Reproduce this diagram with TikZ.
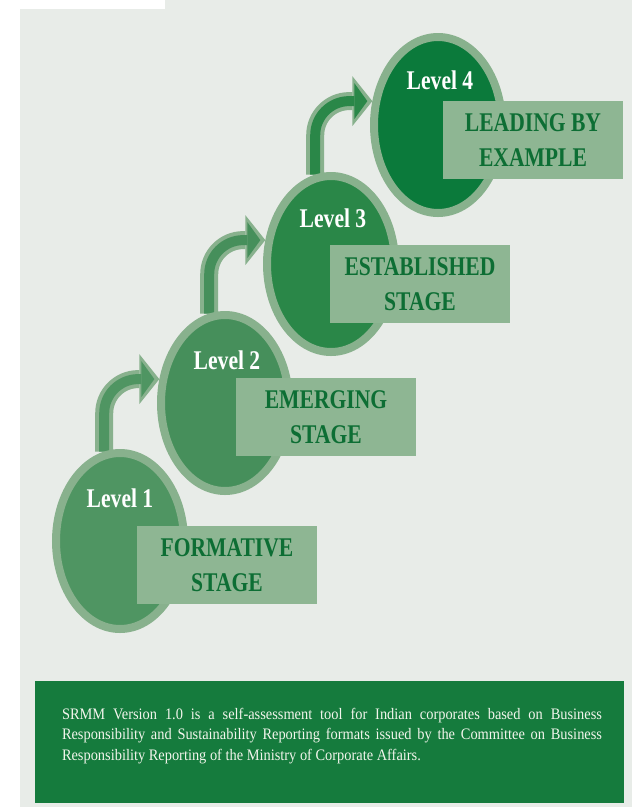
\documentclass[tikz,border=0pt]{standalone}
\usepackage{fontspec}
\setmainfont{Liberation Serif}
\newfontfamily\narrowserif{Liberation Serif}[FakeStretch=0.8]
\newfontfamily\noteserif{Liberation Serif}[FakeStretch=0.9]
\usetikzlibrary{arrows.meta,shapes.geometric}

\definecolor{pagebg}{HTML}{E8ECE8}
\definecolor{rim}{HTML}{88B18D}
\definecolor{lvlA}{HTML}{4F9562}
\definecolor{lvlB}{HTML}{468F5B}
\definecolor{lvlC}{HTML}{2A8748}
\definecolor{lvlD}{HTML}{0B7A3B}
\definecolor{tagfill}{HTML}{8EB693}
\definecolor{tagtext}{HTML}{0D6E34}
\definecolor{notegreen}{HTML}{157B3D}
\definecolor{notetext}{HTML}{F2F5EC}

\pgfdeclarelayer{backdrop}
\pgfdeclarelayer{links}
\pgfsetlayers{backdrop,links,main}

\begin{document}
\begin{tikzpicture}[x=1pt,y=-1pt,
  stage/.style={ellipse,draw=rim,line width=8pt,minimum width=128pt,minimum height=176pt,inner sep=0pt},
  title/.style={text=white,inner sep=0pt,font=\narrowserif\bfseries\fontsize{27}{30}\selectfont},
  tag/.style={fill=tagfill,text=tagtext,align=center,minimum width=180pt,minimum height=78pt,inner sep=0pt,
    font=\narrowserif\bfseries\fontsize{27}{35}\selectfont},
  climb/.style={line width=18pt,draw=rim,rounded corners=34pt,-{Triangle[length=20pt,width=50pt,line width=0pt]}},
  climbin/.style={line width=10pt,rounded corners=34pt,shorten >=5pt,-{Triangle[length=13pt,width=36pt,line width=0pt]}}]
\useasboundingbox (0,0) rectangle (632,807);

% page
\begin{pgfonlayer}{backdrop}
\fill[pagebg] (0,0) rectangle (632,807);
\fill[white] (0,0) rectangle (20,807);
\fill[white] (0,0) rectangle (165,9);
\end{pgfonlayer}

% the four levels
\node[stage,fill=lvlA] (e1) at (120,541) {};
\node[stage,fill=lvlB] (e2) at (225,403) {};
\node[stage,fill=lvlC] (e3) at (331,264) {};
\node[stage,fill=lvlD] (e4) at (438,125) {};

\node[title] (t1) at (120,498) {Level 1};
\node[title] (t2) at (227,360) {Level 2};
\node[title] (t3) at (333,218) {Level 3};
\node[title] (t4) at (440,80) {Level 4};

\node[tag] (s1) at (227,565) {FORMATIVE\\STAGE};
\node[tag] (s2) at (326,417) {EMERGING\\STAGE};
\node[tag] (s3) at (420,284) {ESTABLISHED\\STAGE};
\node[tag] (s4) at (533,140) {LEADING BY\\EXAMPLE};

% arrows from one level up to the next
\begin{pgfonlayer}{links}
\draw[climb] (e1.100) |- (e2.160);
\draw[climbin,lvlA] (e1.100) |- (e2.160);
\draw[climb] (e2.100) |- (e3.160);
\draw[climbin,lvlB] (e2.100) |- (e3.160);
\draw[climb] (e3.100) |- (e4.160);
\draw[climbin,lvlC] (e3.100) |- (e4.160);
\end{pgfonlayer}

% note at the bottom
\node[fill=notegreen,minimum width=589pt,minimum height=122pt,inner sep=0pt] (note) at (329.5,742) {};
\node[text=notetext,text width=540pt,align=justify,inner sep=0pt,font=\noteserif\fontsize{16}{20.5}\selectfont] (notetxt) at (332,736)
  {SRMM Version 1.0 is a self-assessment tool for Indian corporates based on Business\linebreak
   Responsibility and Sustainability Reporting formats issued by the Committee on Business\linebreak
   Responsibility Reporting of the Ministry of Corporate Affairs.};
\end{tikzpicture}
\end{document}
